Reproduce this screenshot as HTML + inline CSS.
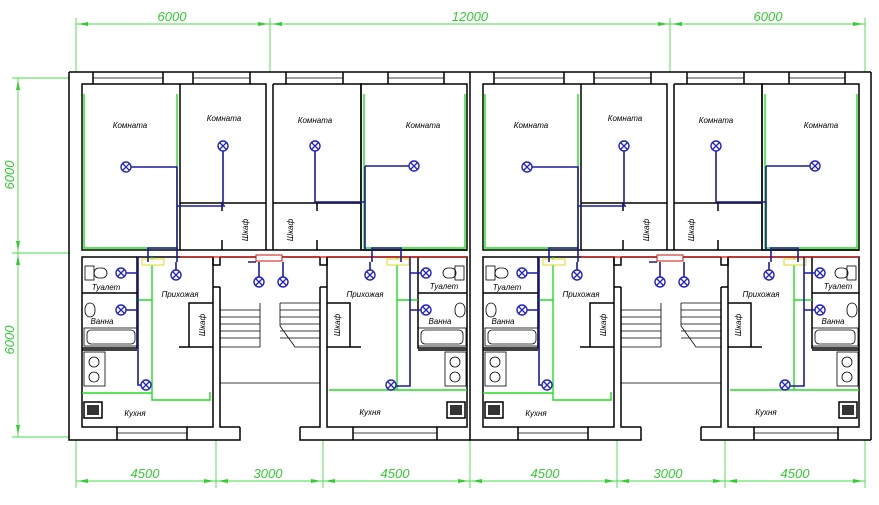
<!DOCTYPE html>
<html><head><meta charset="utf-8"><style>
html,body{margin:0;padding:0;background:#fff}
svg{display:block}
text{font-family:"Liberation Sans","DejaVu Sans",sans-serif;font-style:italic}
.w{fill:none;stroke:#000;stroke-width:1.5}
.t{fill:none;stroke:#000;stroke-width:0.8}
.g{fill:none;stroke:#22dd22;stroke-width:1.4}
.b{fill:none;stroke:#1a1aa0;stroke-width:1.6}
.dim{stroke:#44dd44;stroke-width:0.9;fill:none}
.dt{fill:#33cc33;font-size:13px}
.lb{fill:#000;font-size:8px}
.lamp{fill:#fff;stroke:#2222cc;stroke-width:1.4}
</style></head><body>
<svg width="879" height="505" viewBox="0 0 879 505" xmlns="http://www.w3.org/2000/svg">
<defs>
<g id="lp"><circle r="5" class="lamp"/><path d="M-3.5,-3.5L3.5,3.5M-3.5,3.5L3.5,-3.5" stroke="#2222cc" stroke-width="1.3"/></g>
</defs>
<!-- dimensions -->
<g class="dim">
<line x1="76" y1="24" x2="865" y2="24"/>
<line x1="76" y1="18" x2="76" y2="72"/><line x1="270" y1="18" x2="270" y2="72"/><line x1="670" y1="18" x2="670" y2="72"/><line x1="865" y1="18" x2="865" y2="72"/>
<line x1="76" y1="481" x2="865" y2="481"/>
<line x1="76" y1="440" x2="76" y2="488"/><line x1="216" y1="440" x2="216" y2="488"/><line x1="323" y1="440" x2="323" y2="488"/><line x1="470" y1="440" x2="470" y2="488"/><line x1="617" y1="440" x2="617" y2="488"/><line x1="725" y1="440" x2="725" y2="488"/><line x1="865" y1="440" x2="865" y2="488"/>
<line x1="18" y1="78" x2="18" y2="437"/>
<line x1="12" y1="78" x2="70" y2="78"/><line x1="12" y1="253" x2="70" y2="253"/><line x1="12" y1="437" x2="70" y2="437"/>
</g>
<g fill="#33cc33">
<path d="M78,24l10,-2v4z M268,24l-10,-2v4z M272,24l10,-2v4z M668,24l-10,-2v4z M672,24l10,-2v4z M863,24l-10,-2v4z"/>
<path d="M78,481l10,-2v4z M214,481l-10,-2v4z M218,481l10,-2v4z M321,481l-10,-2v4z M325,481l10,-2v4z M468,481l-10,-2v4z M472,481l10,-2v4z M615,481l-10,-2v4z M619,481l10,-2v4z M723,481l-10,-2v4z M727,481l10,-2v4z M863,481l-10,-2v4z"/>
<path d="M18,80l-2,10h4z M18,251l-2,-10h4z M18,255l-2,10h4z M18,435l-2,-10h4z"/>
</g>
<text class="dt" x="172" y="21" text-anchor="middle">6000</text>
<text class="dt" x="470" y="21" text-anchor="middle">12000</text>
<text class="dt" x="768" y="21" text-anchor="middle">6000</text>
<text class="dt" x="145" y="478" text-anchor="middle">4500</text>
<text class="dt" x="268" y="478" text-anchor="middle">3000</text>
<text class="dt" x="395" y="478" text-anchor="middle">4500</text>
<text class="dt" x="545" y="478" text-anchor="middle">4500</text>
<text class="dt" x="668" y="478" text-anchor="middle">3000</text>
<text class="dt" x="795" y="478" text-anchor="middle">4500</text>
<text class="dt" transform="translate(14,175) rotate(-90)" text-anchor="middle">6000</text>
<text class="dt" transform="translate(14,340) rotate(-90)" text-anchor="middle">6000</text>

<!-- LEFT HALF -->
<g id="half">
<path class="w" d="M69,72H470 M69,72V440H240V427 M300,427V440H470"/>
<path class="w" d="M93,72V84M163,72V84M193,72V84M250,72V84M286,72V84M343,72V84M388,72V84M444,72V84"/>
<path class="t" d="M93,78H163M193,78H250M286,78H343M388,78H444"/>
<!-- upper rooms -->
<rect class="w" x="82" y="84" width="98" height="166"/>
<path class="w" d="M180,84H266V250 M180,203H266 M222,203V211 M222,240V250"/>
<path class="w" d="M273,84H361V250 M273,84V250 M273,203H361 M317,203V211 M317,240V250"/>
<rect class="w" x="361" y="84" width="106" height="166"/>
<!-- corridor walls -->
<path class="w" d="M180,250H467 M213,257V265H220V257 M320,257V265H327V257 M220,257H320"/>
<!-- lower units -->
<path class="w" d="M82,257H213V427H82Z M220,287V427H240 M213,287H220"/>
<path class="w" d="M327,257H467V427H327Z M320,287V427H300 M320,287H327"/>
<path class="w" d="M117,427V440M187,427V440M353,427V440M437,427V440"/>
<path class="t" d="M117,433H187M353,433H437"/>
<!-- baths / toilets -->
<path class="w" d="M82,293H137V257 M82,348H137V293 M82,350H137"/>
<path class="w" d="M467,293H418V257 M467,348H418V293 M467,350H418"/>
<rect class="t" x="85" y="266" width="9" height="14"/><rect class="t" x="94" y="268" width="13" height="10" rx="5"/>
<rect class="t" x="85" y="303" width="10" height="14" rx="6"/>
<rect class="t" x="84" y="328" width="54" height="18"/><rect class="t" x="87" y="330" width="48" height="14" rx="4"/>
<rect class="t" x="84" y="352" width="21" height="34"/><circle class="t" cx="94" cy="362" r="5"/><circle class="t" cx="94" cy="377" r="5"/>
<rect x="84" y="402" width="18" height="16" fill="#fff" stroke="#000" stroke-width="1.5"/><rect x="87" y="405" width="12" height="10" fill="#333"/>
<rect class="t" x="455" y="266" width="9" height="14"/><rect class="t" x="443" y="268" width="13" height="10" rx="5"/>
<rect class="t" x="455" y="303" width="10" height="14" rx="6"/>
<rect class="t" x="418" y="328" width="48" height="18"/><rect class="t" x="421" y="330" width="42" height="14" rx="4"/>
<rect class="t" x="445" y="352" width="21" height="34"/><circle class="t" cx="455" cy="362" r="5"/><circle class="t" cx="455" cy="377" r="5"/>
<rect x="447" y="402" width="18" height="16" fill="#fff" stroke="#000" stroke-width="1.5"/><rect x="450" y="405" width="12" height="10" fill="#333"/>
<!-- closets in hall -->
<path class="w" d="M189,347V303H213 M179,347H213"/>
<path class="w" d="M350,347V303H327 M327,347H361"/>
<!-- stairs -->
<path class="t" d="M220,310H260M220,317H260M220,324H260M220,331H260M220,338H260M220,347H260M260,303V347"/>
<path class="t" d="M280,303H320M280,310H320M280,317H320M280,324H320M280,331H320M280,338H320M280,303V326L295,347H320 M220,383H320"/>
<!-- green wiring -->
<path class="g" d="M84,94V248H177 M177,94V248"/>
<path class="g" d="M364,94V248H465V94"/>
<path class="g" d="M152,257V400H210V392 M82,393H152 M137,300H152"/>
<path class="g" d="M397,257V390 M329,390H467 M397,300H418"/>
<!-- red line -->
<path d="M180,257H467" stroke="#dd1111" stroke-width="1.3"/>
<rect x="142" y="259" width="22" height="6" fill="#fff" stroke="#dddd22" stroke-width="1"/>
<rect x="387" y="259" width="22" height="6" fill="#fff" stroke="#dddd22" stroke-width="1"/>
<rect x="256" y="255" width="26" height="6" fill="#fff" stroke="#cc1111" stroke-width="1"/>
<!-- blue wiring -->
<path class="b" d="M126,167H177V250 M177,206H225 M223,146V206"/>
<path class="b" d="M315,146V202H365 M365,166H414 M365,166V250"/>
<path class="b" d="M148,262V248H177V262 M372,262V248H401V262"/>
<path class="b" d="M138,257V385H146 M121,273H138 M121,310H138 M176,262V275"/>
<path class="b" d="M410,257V386H391 M426,273H410 M426,310H410 M370,262V275"/>
<path class="b" d="M248,262H256 M259,262V282 M283,262V282"/>
<use href="#lp" x="126" y="167"/><use href="#lp" x="223" y="146"/><use href="#lp" x="315" y="146"/><use href="#lp" x="414" y="166"/>
<use href="#lp" x="176" y="275"/><use href="#lp" x="121" y="273"/><use href="#lp" x="121" y="310"/><use href="#lp" x="146" y="385"/>
<use href="#lp" x="259" y="282"/><use href="#lp" x="283" y="282"/>
<use href="#lp" x="370" y="275"/><use href="#lp" x="426" y="273"/><use href="#lp" x="426" y="310"/><use href="#lp" x="391" y="385"/>
<!-- labels -->
<text class="lb" x="130" y="128" text-anchor="middle">Комната</text>
<text class="lb" x="224" y="121" text-anchor="middle">Комната</text>
<text class="lb" x="315" y="123" text-anchor="middle">Комната</text>
<text class="lb" x="423" y="128" text-anchor="middle">Комната</text>
<text class="lb" x="106" y="290" text-anchor="middle">Туалет</text>
<text class="lb" x="102" y="324" text-anchor="middle">Ванна</text>
<text class="lb" x="180" y="297" text-anchor="middle">Прихожая</text>
<text class="lb" x="135" y="416" text-anchor="middle">Кухня</text>
<text class="lb" x="444" y="289" text-anchor="middle">Туалет</text>
<text class="lb" x="440" y="324" text-anchor="middle">Ванна</text>
<text class="lb" x="365" y="297" text-anchor="middle">Прихожая</text>
<text class="lb" x="370" y="415" text-anchor="middle">Кухня</text>
<text class="lb" transform="translate(248,230) rotate(-90)" text-anchor="middle">Шкаф</text>
<text class="lb" transform="translate(293,230) rotate(-90)" text-anchor="middle">Шкаф</text>
<text class="lb" transform="translate(205,325) rotate(-90)" text-anchor="middle">Шкаф</text>
<text class="lb" transform="translate(340,325) rotate(-90)" text-anchor="middle">Шкаф</text>
</g>

<!-- RIGHT HALF (copy) -->
<g transform="translate(401,0)">
<path class="w" d="M69,72H470 M69,72V440H240V427 M300,427V440H470"/>
<path class="w" d="M93,72V84M163,72V84M193,72V84M250,72V84M286,72V84M343,72V84M388,72V84M444,72V84"/>
<path class="t" d="M93,78H163M193,78H250M286,78H343M388,78H444"/>
<rect class="w" x="82" y="84" width="98" height="166"/>
<path class="w" d="M180,84H266V250 M180,203H266 M222,203V211 M222,240V250"/>
<path class="w" d="M273,84H361V250 M273,84V250 M273,203H361 M317,203V211 M317,240V250"/>
<path class="w" d="M361,84H458V250H361Z"/>
<path class="w" d="M180,250H458 M213,257V265H220V257 M320,257V265H327V257 M220,257H320"/>
<path class="w" d="M82,257H213V427H82Z M220,287V427H240 M213,287H220"/>
<path class="w" d="M327,257H458V427H327Z M320,287V427H300 M320,287H327"/>
<path class="w" d="M117,427V440M187,427V440M353,427V440M437,427V440"/>
<path class="t" d="M117,433H187M353,433H437"/>
<path class="w" d="M82,293H137V257 M82,348H137V293 M82,350H137"/>
<path class="w" d="M458,293H411V257 M458,348H411V293 M458,350H411"/>
<rect class="t" x="85" y="266" width="9" height="14"/><rect class="t" x="94" y="268" width="13" height="10" rx="5"/>
<rect class="t" x="85" y="303" width="10" height="14" rx="6"/>
<rect class="t" x="84" y="328" width="54" height="18"/><rect class="t" x="87" y="330" width="48" height="14" rx="4"/>
<rect class="t" x="84" y="352" width="21" height="34"/><circle class="t" cx="94" cy="362" r="5"/><circle class="t" cx="94" cy="377" r="5"/>
<rect x="84" y="402" width="18" height="16" fill="#fff" stroke="#000" stroke-width="1.5"/><rect x="87" y="405" width="12" height="10" fill="#333"/>
<rect class="t" x="446" y="266" width="9" height="14"/><rect class="t" x="434" y="268" width="13" height="10" rx="5"/>
<rect class="t" x="446" y="303" width="10" height="14" rx="6"/>
<rect class="t" x="411" y="328" width="46" height="18"/><rect class="t" x="414" y="330" width="40" height="14" rx="4"/>
<rect class="t" x="436" y="352" width="21" height="34"/><circle class="t" cx="446" cy="362" r="5"/><circle class="t" cx="446" cy="377" r="5"/>
<rect x="438" y="402" width="18" height="16" fill="#fff" stroke="#000" stroke-width="1.5"/><rect x="441" y="405" width="12" height="10" fill="#333"/>
<path class="w" d="M189,347V303H213 M179,347H213"/>
<path class="w" d="M350,347V303H327 M327,347H361"/>
<path class="t" d="M220,310H260M220,317H260M220,324H260M220,331H260M220,338H260M220,347H260M260,303V347"/>
<path class="t" d="M280,303H320M280,310H320M280,317H320M280,324H320M280,331H320M280,338H320M280,303V326L295,347H320 M220,383H320"/>
<path class="g" d="M84,94V248H177 M177,94V248"/>
<path class="g" d="M364,94V248H456V94"/>
<path class="g" d="M152,257V400H210V392 M82,393H152 M137,300H152"/>
<path class="g" d="M393,257V390 M329,390H458 M393,300H411"/>
<path d="M180,257H458" stroke="#dd1111" stroke-width="1.3"/>
<rect x="142" y="259" width="22" height="6" fill="#fff" stroke="#dddd22" stroke-width="1"/>
<rect x="383" y="259" width="22" height="6" fill="#fff" stroke="#dddd22" stroke-width="1"/>
<rect x="256" y="255" width="26" height="6" fill="#fff" stroke="#cc1111" stroke-width="1"/>
<path class="b" d="M126,167H177V250 M177,206H225 M223,146V206"/>
<path class="b" d="M315,146V202H365 M365,166H414 M365,166V250"/>
<path class="b" d="M148,262V248H177V262 M370,262V248H397V262"/>
<path class="b" d="M138,257V385H146 M121,273H138 M121,310H138 M176,262V275"/>
<path class="b" d="M403,257V386H384 M419,273H403 M419,310H403 M368,262V275"/>
<path class="b" d="M248,262H256 M259,262V282 M283,262V282"/>
<use href="#lp" x="126" y="167"/><use href="#lp" x="223" y="146"/><use href="#lp" x="315" y="146"/><use href="#lp" x="414" y="166"/>
<use href="#lp" x="176" y="275"/><use href="#lp" x="121" y="273"/><use href="#lp" x="121" y="310"/><use href="#lp" x="146" y="385"/>
<use href="#lp" x="259" y="282"/><use href="#lp" x="283" y="282"/>
<use href="#lp" x="368" y="275"/><use href="#lp" x="419" y="273"/><use href="#lp" x="419" y="310"/><use href="#lp" x="384" y="385"/>
<text class="lb" x="130" y="128" text-anchor="middle">Комната</text>
<text class="lb" x="224" y="121" text-anchor="middle">Комната</text>
<text class="lb" x="315" y="123" text-anchor="middle">Комната</text>
<text class="lb" x="420" y="128" text-anchor="middle">Комната</text>
<text class="lb" x="106" y="290" text-anchor="middle">Туалет</text>
<text class="lb" x="102" y="324" text-anchor="middle">Ванна</text>
<text class="lb" x="180" y="297" text-anchor="middle">Прихожая</text>
<text class="lb" x="135" y="416" text-anchor="middle">Кухня</text>
<text class="lb" x="437" y="289" text-anchor="middle">Туалет</text>
<text class="lb" x="432" y="324" text-anchor="middle">Ванна</text>
<text class="lb" x="360" y="297" text-anchor="middle">Прихожая</text>
<text class="lb" x="365" y="415" text-anchor="middle">Кухня</text>
<text class="lb" transform="translate(248,230) rotate(-90)" text-anchor="middle">Шкаф</text>
<text class="lb" transform="translate(293,230) rotate(-90)" text-anchor="middle">Шкаф</text>
<text class="lb" transform="translate(205,325) rotate(-90)" text-anchor="middle">Шкаф</text>
<text class="lb" transform="translate(340,325) rotate(-90)" text-anchor="middle">Шкаф</text>
</g>
<!-- right outer wall -->
<path class="w" d="M871,72V440"/>
</svg>
</body></html>
